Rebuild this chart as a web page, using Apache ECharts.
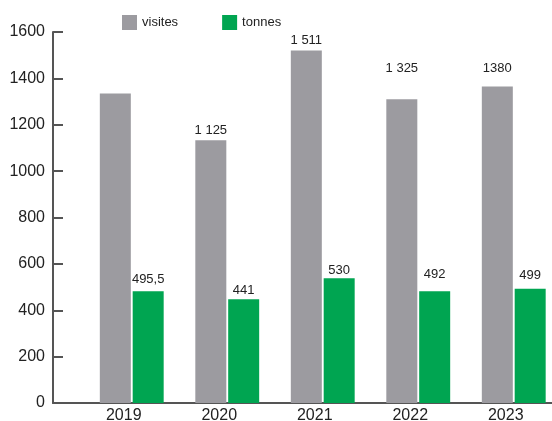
<!DOCTYPE html>
<html>
<head>
<meta charset="utf-8">
<script src="https://cdn.jsdelivr.net/npm/echarts@6/dist/echarts.min.js"></script>
<style>
  html, body { margin: 0; padding: 0; background: #fff; }
  #chart { width: 552px; height: 421px; }
</style>
</head>
<body>
<div id="chart"></div>
<script>
// data
const years = ["2019", "2020", "2021", "2022", "2023"];
const visites = [1335, 1133, 1520, 1310, 1365];
const tonnes = [482, 447, 538, 482, 493];
const visitesLabels = ["", "1 125", "1 511", "1 325", "1380"];
const tonnesLabels = ["495,5", "441", "530", "492", "499"];
const yTicks = [0, 200, 400, 600, 800, 1000, 1200, 1400, 1600];

// how far each value label sits above its bar (px)
const visitesLift = [0, 3, 4, 24, 12];
const tonnesLift = [5, 2, 1, 10, 7];

const axisColor = "#555";
const textColor = "#222";

const makeData = (vals, lift) =>
  vals.map((v, i) => ({
    value: v,
    label: { offset: [0, -lift[i]] },
  }));

const myChart = echarts.init(document.getElementById("chart"));
myChart.setOption({
  animation: false,
  textStyle: { fontFamily: "'Liberation Sans', sans-serif" },
  legend: {
    left: 122,
    top: 15,
    padding: 0,
    itemWidth: 15,
    itemHeight: 15,
    itemGap: 44,
    icon: "rect",
    textStyle: { fontSize: 13, color: textColor },
    data: ["visites", "tonnes"],
  },
  grid: [
    { left: 84, width: 477.5, top: 32, bottom: 18, outerBoundsMode: "none" },
    { left: 53, right: 0, top: 32, bottom: 18, outerBoundsMode: "none" },
  ],
  xAxis: [
    {
      type: "category",
      data: years,
      gridIndex: 0,
      axisLine: { show: false },
      axisTick: { show: false },
      axisLabel: {
        color: textColor,
        fontSize: 16,
        margin: 5,
        padding: [0, 16, 0, 0],
      },
    },
    {
      type: "value",
      gridIndex: 1,
      min: 0,
      max: 1,
      axisLine: { show: true, onZero: false, lineStyle: { color: axisColor, width: 2 } },
      axisTick: { show: false },
      axisLabel: { show: false },
      splitLine: { show: false },
    },
  ],
  yAxis: [
    {
      type: "value",
      gridIndex: 0,
      min: yTicks[0],
      max: yTicks[yTicks.length - 1],
      interval: 200,
      offset: 31,
      axisLine: { show: true, lineStyle: { color: axisColor, width: 2 } },
      axisTick: { show: true, inside: true, length: 10, lineStyle: { color: axisColor, width: 2 } },
      axisLabel: { color: textColor, fontSize: 16, margin: 8, formatter: (v) => String(v) },
      splitLine: { show: false },
    },
    { type: "value", gridIndex: 1, show: false, min: 0, max: 1 },
  ],
  series: [
    {
      name: "visites",
      type: "bar",
      xAxisIndex: 0,
      yAxisIndex: 0,
      data: makeData(visites, visitesLift),
      barWidth: 31,
      barGap: "6%",
      itemStyle: { color: "#9c9ba0" },
      label: {
        show: true,
        position: "top",
        distance: 0,
        fontSize: 13,
        color: textColor,
        formatter: (p) => visitesLabels[p.dataIndex],
      },
    },
    {
      name: "tonnes",
      type: "bar",
      xAxisIndex: 0,
      yAxisIndex: 0,
      data: makeData(tonnes, tonnesLift),
      barWidth: 31,
      itemStyle: { color: "#00a551" },
      label: {
        show: true,
        position: "top",
        distance: 0,
        fontSize: 13,
        color: textColor,
        formatter: (p) => tonnesLabels[p.dataIndex],
      },
    },
  ],
});
</script>
</body>
</html>
